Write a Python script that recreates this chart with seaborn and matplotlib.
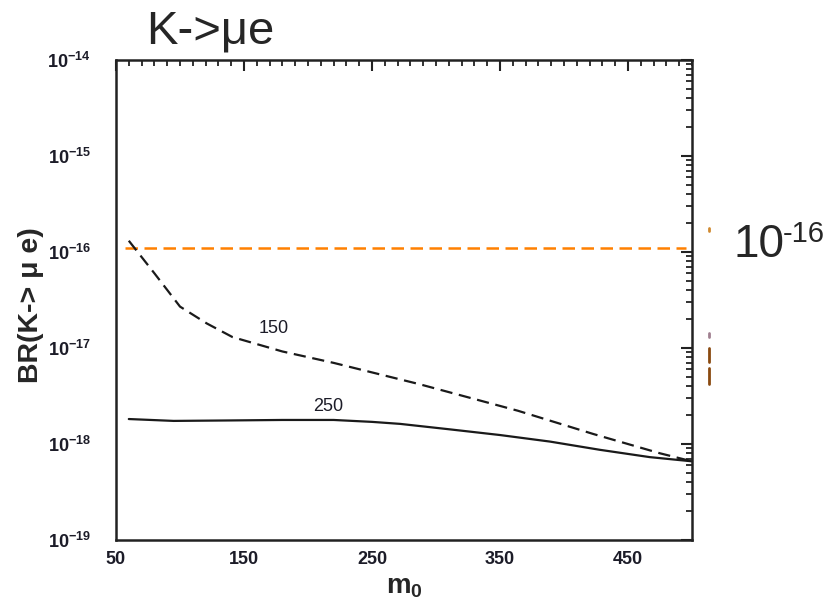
import numpy as np
import pandas as pd
import matplotlib
matplotlib.use("Agg")
import matplotlib.pyplot as plt
import matplotlib.ticker as mticker
from matplotlib.lines import Line2D
import seaborn as sns

# ---- data ----
m0_150 = [60, 80, 100, 121, 141, 180, 220, 287, 364, 423, 475, 500]
br_150 = [1.31e-16, 6.0e-17, 2.7e-17, 1.8e-17, 1.3e-17, 9.2e-18, 7.0e-18,
          4.2e-18, 2.22e-18, 1.27e-18, 8.0e-19, 6.6e-19]
m0_250 = [60, 95, 140, 180, 220, 250, 272, 311, 350, 389, 428, 467, 500]
br_250 = [1.82e-18, 1.74e-18, 1.76e-18, 1.78e-18, 1.78e-18, 1.70e-18, 1.62e-18,
          1.42e-18, 1.24e-18, 1.06e-18, 8.7e-19, 7.3e-19, 6.6e-19]
br_limit = 1.1e-16
limit_span = [57, 495]
x_ticks = [50, 150, 250, 350, 450]
y_ticks = [1e-19, 1e-18, 1e-17, 1e-16, 1e-15, 1e-14]
y_tick_labels = [r"$\mathbf{10^{-19}}$", r"$\mathbf{10^{-18}}$", r"$\mathbf{10^{-17}}$",
                 r"$\mathbf{10^{-16}}$", r"$\mathbf{10^{-15}}$", r"$\mathbf{10^{-14}}$"]
curve_labels = ["150", "250"]
curve_label_pos = [(173, 1.6e-17), (216, 2.44e-18)]

sns.set_style("white")
plt.rcParams["font.family"] = ["Liberation Sans", "DejaVu Sans"]
plt.rcParams["mathtext.fontset"] = "custom"
plt.rcParams["mathtext.rm"] = "Liberation Sans"
plt.rcParams["mathtext.bf"] = "Liberation Sans:bold"
plt.rcParams["mathtext.it"] = "Liberation Sans:italic"

fig = plt.figure(figsize=(8.37, 6.03), dpi=100)
ax = fig.add_axes([116/837, 1-540/603, (692-116)/837, (540-60)/603])

df150 = pd.DataFrame({"m0": m0_150, "BR": br_150})
df250 = pd.DataFrame({"m0": m0_250, "BR": br_250})

ax.hlines(br_limit, limit_span[0], limit_span[1], colors="#FF8000",
          linestyles=(0, (5, 2.6)), linewidth=1.8, zorder=2)
sns.lineplot(data=df150, x="m0", y="BR", ax=ax, color="#1a1a1a",
             linewidth=1.6, estimator=None, sort=False)
ax.lines[-1].set_linestyle((0, (5.5, 3)))
sns.lineplot(data=df250, x="m0", y="BR", ax=ax, color="#1a1a1a",
             linewidth=1.6, estimator=None, sort=False)

ax.set_yscale("log")
ax.set_xlim(50, 500)
ax.set_ylim(1e-19, 1e-14)

ax.set_xticks(x_ticks)
ax.set_xticklabels([str(t) for t in x_ticks], fontsize=13, fontweight="bold",
                   color="#1c1c28")
ax.xaxis.set_minor_locator(mticker.MultipleLocator(10))
ax.set_yticks(y_ticks)
ax.set_yticklabels(y_tick_labels, fontsize=13, color="#1c1c28")
ax.yaxis.set_minor_locator(mticker.LogLocator(base=10, subs=np.arange(2, 10), numticks=20))
ax.yaxis.set_minor_formatter(mticker.NullFormatter())

ax.tick_params(which="both", direction="in", top=True, right=True, color="#222222")
ax.tick_params(which="major", length=8, width=1.5)
ax.tick_params(which="minor", length=4.5, width=1.3)
ax.tick_params(axis="x", which="major", pad=8)
ax.tick_params(axis="y", which="major", pad=18)
for s in ax.spines.values():
    s.set_linewidth(1.8)
    s.set_color("#222222")

ax.set_xlabel(r"$\mathbf{m_0}$", fontsize=20, labelpad=4)
ax.set_ylabel(r"BR(K-> μ e)", fontsize=20.5, fontweight="bold", labelpad=2)
ax.yaxis.set_label_coords(-0.125, 0.49)

for lbl, (x, y) in zip(curve_labels, curve_label_pos):
    ax.text(x, y, lbl, fontsize=13, ha="center", va="center", color="#1c1c28")

fig.text(210/837, 1-43/603, "K->μe", fontsize=34, ha="center", va="baseline")
fig.text(734/837, 1-257/603, "10", fontsize=33, ha="left", va="baseline")
fig.text(783/837, 1-242/603, "-16", fontsize=21, ha="left", va="baseline")

# cropped-text remnants at right edge
for (y0, y1, c) in [(228, 231, "#d08a30"), (333, 337, "#a08090"),
                    (348, 362, "#8a4a10"), (368, 384, "#8a4a10")]:
    fig.add_artist(Line2D([709/837, 709/837], [1-y0/603, 1-y1/603],
                          color=c, linewidth=2, transform=fig.transFigure))

fig.savefig("out.png", dpi=100)
